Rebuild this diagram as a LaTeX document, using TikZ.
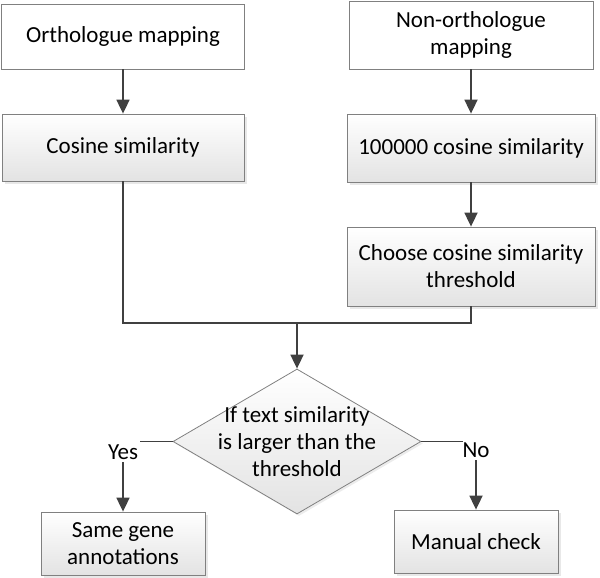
\documentclass[tikz,border=0pt]{standalone}
\usepackage{fontspec}
\setmainfont{Carlito}
\usetikzlibrary{shapes.geometric,arrows.meta,shadows}
\begin{document}
\begin{tikzpicture}[x=1pt,y=-1pt,
  txt/.style={font=\fontsize{23}{27}\selectfont, align=center},
  box/.style={txt, draw=black!50, line width=0.8pt, fill=white, inner sep=2pt},
  gbox/.style={box, top color=white, bottom color=black!11,
    drop shadow={shadow xshift=2.5pt,shadow yshift=-2.5pt,opacity=0.18}},
  conn/.style={draw=black!75, line width=1.8pt},
  arr/.style={conn, -{Triangle[length=14pt,width=13pt]}},
  lbl/.style={txt, inner sep=2.5pt}
]
\useasboundingbox (0,0) rectangle (600,578);

\node[box,  minimum width=243pt, minimum height=65pt] (A) at (123,36.5) {Orthologue mapping};
\node[gbox, minimum width=242pt, minimum height=67pt] (B) at (123,147.5) {Cosine similarity};
\node[box,  minimum width=244pt, minimum height=68pt] (C) at (471,35) {Non-orthologue\\mapping};
\node[gbox, minimum width=248pt, minimum height=68pt] (D) at (471,148) {100000 cosine similarity};
\node[gbox, minimum width=248pt, minimum height=79pt] (E) at (471,266.5) {Choose cosine similarity\\threshold};

\node[diamond, draw=black!50, line width=0.8pt, top color=white, bottom color=black!11,
  drop shadow={shadow xshift=2pt,shadow yshift=-2pt,opacity=0.15},
  minimum width=248pt, minimum height=145pt, inner sep=0pt] (dec) at (297,441.5) {};
\node[txt] (dect) at (dec.center) {If text similarity\\is larger than the\\threshold};

\node[gbox, minimum width=164pt, minimum height=63pt] (F) at (123,543.5) {Same gene\\annotations};
\node[gbox, minimum width=164pt, minimum height=63pt] (G) at (476,541.5) {Manual check};

\coordinate (M) at (297,323);
\coordinate (yl) at (140,441.5);
\coordinate (nl) at (463,441.5);

\draw[arr] (A.south) -- (B.north);
\draw[arr] (C.south) -- (D.north);
\draw[arr] (D.south) -- (E.north);
\draw[conn] (B.south) -- (B.south |- M) -- (E.south |- M) -- (E.south);
\draw[arr] (M) -- (dec.north);

\draw[conn] (dec.west) -- (yl);
\node[lbl] (yes) at (123,452) {Yes};
\draw[arr] (yes.south) -- (F.north);

\draw[conn] (dec.east) -- (nl);
\node[lbl] (no) at (476,450) {No};
\draw[arr] (no.south) -- (G.north);
\end{tikzpicture}
\end{document}
